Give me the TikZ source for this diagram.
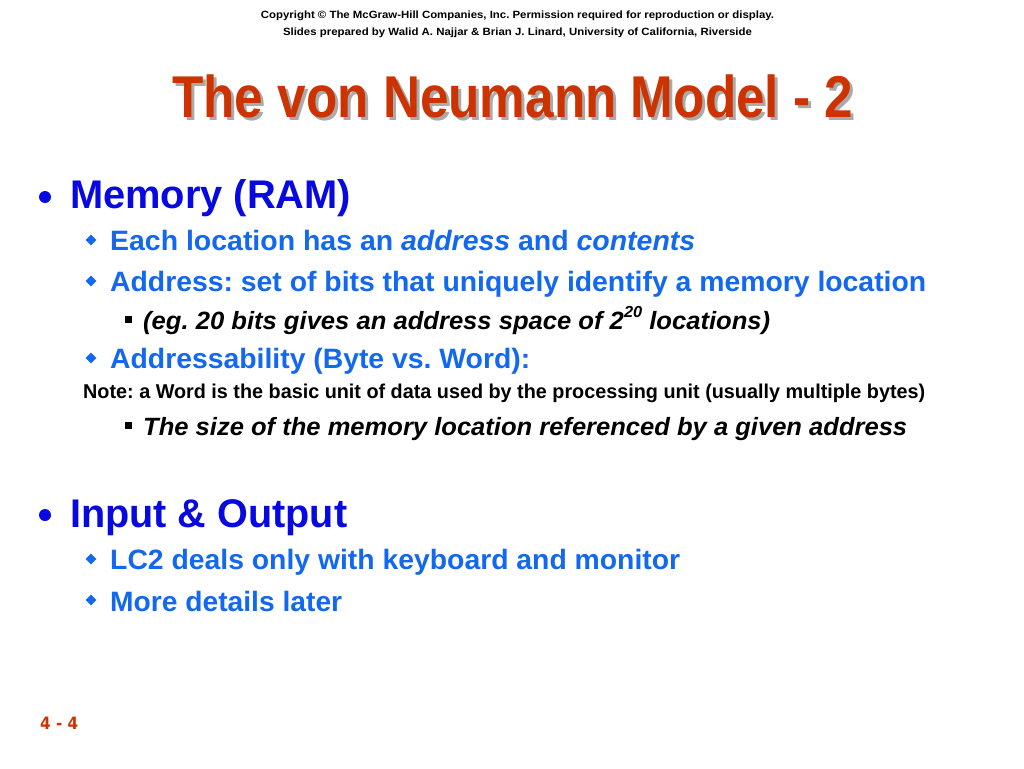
\documentclass[tikz,border=0pt]{standalone}
\usepackage{fontspec}
\setmainfont{Liberation Sans}
\newfontfamily\footfont{DejaVu Sans}
\usepackage{graphicx}
\usetikzlibrary{shapes.geometric}
\definecolor{lonecol}{RGB}{8,8,225}
\definecolor{ltwocol}{RGB}{18,104,238}
\definecolor{titlecol}{RGB}{204,51,0}
\definecolor{shadowcol}{RGB}{170,170,170}
\newcommand{\fitw}[2]{\resizebox{#1}{\height}{#2}}
\frenchspacing
\begin{document}
\begin{tikzpicture}[x=1pt,y=-1pt,
  txt/.style={inner sep=0pt, anchor=base west, font=\bfseries},
  hdr/.style={inner sep=0pt, anchor=base, font=\bfseries\fontsize{10.5}{12}\selectfont},
  ttl/.style={inner sep=0pt, anchor=base west, font=\bfseries\fontsize{59}{60}\selectfont},
  lone/.style={txt, text=lonecol, font=\bfseries\fontsize{40}{44}\selectfont},
  ltwo/.style={txt, text=ltwocol, font=\bfseries\fontsize{28}{32}\selectfont},
  lthree/.style={txt, text=black, font=\bfseries\itshape\fontsize{25}{28}\selectfont},
  notestyle/.style={txt, text=black, font=\bfseries\fontsize{20}{24}\selectfont},
  dotbullet/.style={circle, fill=lonecol, inner sep=0pt, minimum size=12pt},
  diabullet/.style={diamond, fill=ltwocol, inner sep=0pt, minimum size=11pt},
  sqbullet/.style={rectangle, fill=black, inner sep=0pt, minimum size=7pt}]
\useasboundingbox[fill=white] (0,0) rectangle (1024,768);

% header
\node[hdr] (copy1) at (517.5,19) {\fitw{513pt}{Copyright \textcopyright{} The McGraw-Hill Companies, Inc. Permission required for reproduction or display.}};
\node[hdr] (copy2) at (517.5,36) {\fitw{469pt}{Slides prepared by Walid A. Najjar \& Brian J. Linard, University of California, Riverside}};

% title
\node[ttl, text=shadowcol] (titleshadow) at (175,120) {\fitw{681pt}{The von Neumann Model - 2}};
\node[ttl, text=titlecol] (title) at (172,117) {\fitw{681pt}{The von Neumann Model - 2}};

% Memory
\node[dotbullet] (b1) at (45,197) {};
\node[lone] (mem) at (70,208) {\fitw{281pt}{Memory (RAM)}};
\node[diabullet] (d1) at (91,240) {};
\node[ltwo] (each) at (110,250) {\fitw{585pt}{Each location has an \textit{address} and \textit{contents}}};
\node[diabullet] (d2) at (91,281) {};
\node[ltwo] (addr) at (110,291) {\fitw{816pt}{Address: set of bits that uniquely identify a memory location}};
\node[sqbullet] (s1) at (128,319) {};
\node[lthree] (eg) at (143,329) {\fitw{627pt}{(eg. 20 bits gives an address space of 2\raisebox{0.45em}{\fontsize{16}{18}\selectfont 20} locations)}};
\node[diabullet] (d3) at (91,358) {};
\node[ltwo] (addrb) at (110,368) {\fitw{420pt}{Addressability (Byte vs. Word):}};
\node[notestyle] (note) at (83,398) {\fitw{842pt}{Note: a Word is the basic unit of data used by the processing unit (usually multiple bytes)}};
\node[sqbullet] (s2) at (128,425) {};
\node[lthree] (size) at (143,435) {\fitw{764pt}{The size of the memory location referenced by a given address}};

% I/O
\node[dotbullet] (b2) at (45,515) {};
\node[lone] (io) at (70,527) {\fitw{277pt}{Input \& Output}};
\node[diabullet] (d4) at (91,559) {};
\node[ltwo] (lc2) at (110,569) {\fitw{570pt}{LC2 deals only with keyboard and monitor}};
\node[diabullet] (d5) at (91,600) {};
\node[ltwo] (more) at (110,611) {\fitw{232pt}{More details later}};

% footer
\node[txt, text=titlecol, font=\footfont\bfseries\fontsize{17}{20}\selectfont] (pg) at (40,729) {\fitw{38pt}{4 - 4}};
\end{tikzpicture}
\end{document}
